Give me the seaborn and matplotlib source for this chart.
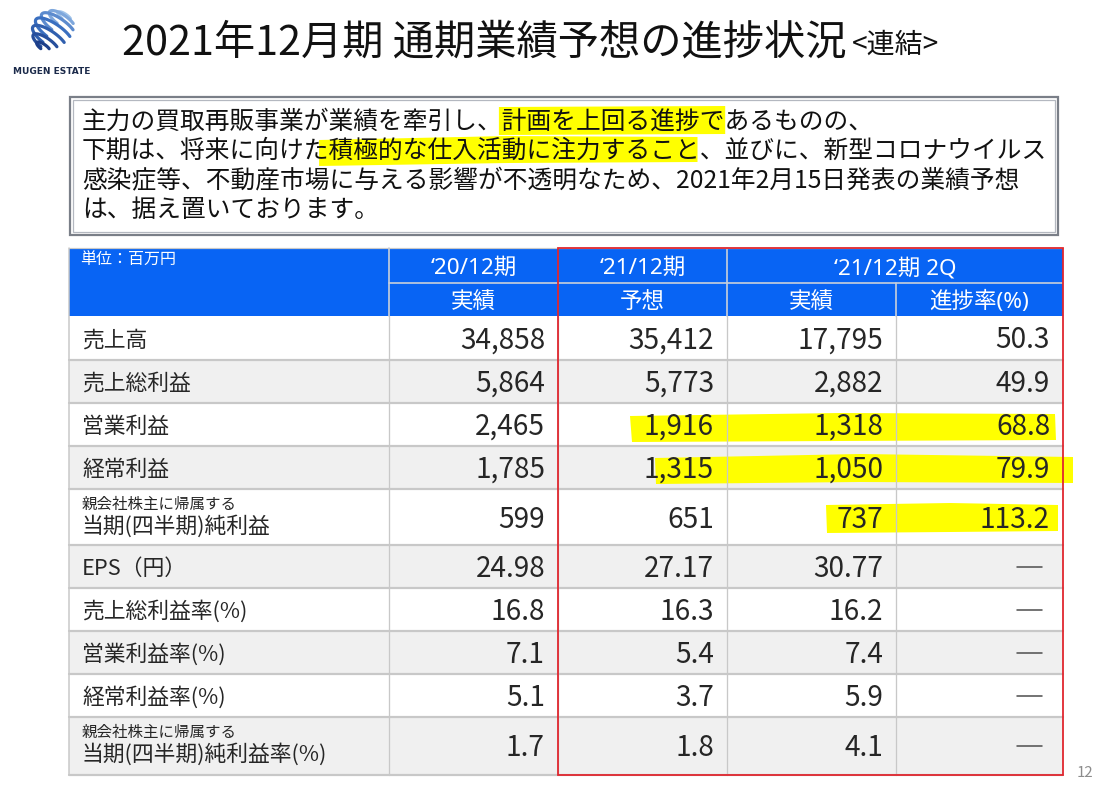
import numpy as np
import matplotlib
matplotlib.use("Agg")
import matplotlib.pyplot as plt
from matplotlib.patches import Rectangle, Polygon
import seaborn as sns

# ---------------- data ----------------
title_text = "2021年12月期 通期業績予想の進捗状況"
title_sub = "<連結>"
summary_lines = [
    "主力の買取再販事業が業績を牽引し、計画を上回る進捗であるものの、",
    "下期は、将来に向けた積極的な仕入活動に注力すること、並びに、新型コロナウイルス",
    "感染症等、不動産市場に与える影響が不透明なため、2021年2月15日発表の業績予想",
    "は、据え置いております。",
]
unit_label = "単位：百万円"
period_headers = ["‘20/12期", "‘21/12期", "‘21/12期 2Q"]
sub_headers = ["実績", "予想", "実績", "進捗率(%)"]
row_labels = ["売上高", "売上総利益", "営業利益", "経常利益", "当期(四半期)純利益",
              "EPS（円）", "売上総利益率(%)", "営業利益率(%)", "経常利益率(%)",
              "当期(四半期)純利益率(%)"]
row_prefix = ["", "", "", "", "親会社株主に帰属する", "", "", "", "", "親会社株主に帰属する"]
fy20_actual = [34858, 5864, 2465, 1785, 599, 24.98, 16.8, 7.1, 5.1, 1.7]
fy21_forecast = [35412, 5773, 1916, 1315, 651, 27.17, 16.3, 5.4, 3.7, 1.8]
q2_actual = [17795, 2882, 1318, 1050, 737, 30.77, 16.2, 7.4, 5.9, 4.1]
progress_pct = [50.3, 49.9, 68.8, 79.9, 113.2, None, None, None, None, None]
decimals = [0, 0, 0, 0, 0, 2, 1, 1, 1, 1]
progress_decimals = 1
page_number = "12"

# ---------------- style ----------------
sns.set_theme(style="white")
plt.rcParams["font.family"] = ["Noto Sans CJK JP", "DejaVu Sans"]

W, H = 1110, 785
fig = plt.figure(figsize=(W / 100, H / 100), dpi=100)
ax = fig.add_axes([0, 0, 1, 1])
ax.set_xlim(0, W)
ax.set_ylim(H, 0)
ax.axis("off")


def pt(px):
    return px * 0.72


TXT = "#262626"
BLUE = "#0864F4"
GRID = "#C8C8C8"
GRAY_ROW = "#F0F0F0"
RED = "#E0262E"
YEL = "#FFFF00"

# ---------------- logo ----------------
cx, cy, R = 54, 32, 22
tilt = np.deg2rad(35)
blues = sns.blend_palette(["#9fc3ea", "#3a6fc0", "#1d3f8a"], 7)
for i, lat in enumerate(np.linspace(-1.2, 1.2, 7)):
    t = np.linspace(np.pi * 0.55, np.pi * 1.75, 80)
    r = np.cos(lat)
    xs = r * np.cos(t)
    ys = np.sin(lat) * 0.9 + 0.35 * r * np.sin(t)
    xr = xs * np.cos(tilt) - ys * np.sin(tilt)
    yr = xs * np.sin(tilt) + ys * np.cos(tilt)
    ax.plot(cx + R * xr, cy + R * yr, color=blues[i], lw=2.3,
            solid_capstyle="round", zorder=3)
ax.text(52, 72, "MUGEN ESTATE", fontsize=6.5, color="#1b2a4a", ha="center",
        va="center", fontweight="bold", family=["DejaVu Sans"])

# ---------------- title ----------------
ax.text(122, 55, title_text, fontsize=pt(41.3), color="#111111", ha="left",
        va="baseline")
ax.text(852, 53, title_sub, fontsize=pt(28), color="#111111", ha="left",
        va="baseline")

# ---------------- summary box ----------------
ax.add_patch(Rectangle((70, 97), 988, 138, fill=False, edgecolor="#7A7F88",
                       lw=1.6, zorder=2))
ax.add_patch(Rectangle((73, 100), 982, 132, fill=False, edgecolor="#B4B8C0",
                       lw=0.9, zorder=2))
cw = 24.7  # character advance in px
x0 = 82
# highlighter strokes, placed over characters 18-26 of line 1 and 11-25 of line 2
a, b = x0 + 17 * cw - 3, x0 + 26 * cw + 1
ax.add_patch(Polygon([(a, 107), (b, 106), (b, 134), (a, 135)],
                     closed=True, facecolor=YEL, edgecolor="none", zorder=1))
a, b = x0 + 9.6 * cw, x0 + 25 * cw - 2
m = (a + b) / 2
ax.add_patch(Polygon([(a, 140), (m, 136), (b, 137), (b, 162),
                      (m, 163), (a, 166)],
                     closed=True, facecolor=YEL, edgecolor="none", zorder=1))
line_base = [129, 158, 188, 217]
for s, yb in zip(summary_lines, line_base):
    ax.text(x0, yb, s, fontsize=pt(cw), color="#111111", ha="left",
            va="baseline", zorder=4)

# ---------------- table ----------------
col_edges = [69, 389, 558, 727, 896, 1063]
hdr_top, hdr_mid, hdr_bot = 248, 283, 316
row_edges = [316, 360, 403, 446, 489, 545, 588, 631, 674, 717, 775]
nrows = len(row_labels)
tab_l, tab_r = col_edges[0], col_edges[-1]

# header
ax.add_patch(Rectangle((tab_l, hdr_top), tab_r - tab_l, hdr_bot - hdr_top,
                       facecolor=BLUE, edgecolor="none", zorder=1))
hl = "#C9CFDA"
ax.plot([col_edges[1], tab_r], [hdr_mid, hdr_mid], color=hl, lw=1.2, zorder=2)
ax.plot([col_edges[1], col_edges[1]], [hdr_top, hdr_bot], color=hl, lw=1.2, zorder=2)
ax.plot([col_edges[3], col_edges[3]], [hdr_top, hdr_bot], color=hl, lw=1.2, zorder=2)
ax.plot([col_edges[4], col_edges[4]], [hdr_mid, hdr_bot], color=hl, lw=1.2, zorder=2)
ax.text(80, 265, unit_label, fontsize=pt(16), color="white", ha="left",
        va="baseline", zorder=4)
hdr_font = ["Noto Sans", "Noto Sans CJK JP"]
period_spans = [(1, 2), (2, 3), (3, 5)]
for lab, (a, b) in zip(period_headers, period_spans):
    ax.text((col_edges[a] + col_edges[b]) / 2, 274, lab, fontsize=pt(22.5),
            color="white", ha="center", va="baseline", family=hdr_font, zorder=4)
for j, lab in enumerate(sub_headers):
    ax.text((col_edges[j + 1] + col_edges[j + 2]) / 2, 308, lab,
            fontsize=pt(22.5), color="white", ha="center", va="baseline",
            family=hdr_font, zorder=4)

# body rows
for i in range(nrows):
    top, bot = row_edges[i], row_edges[i + 1]
    ax.add_patch(Rectangle((tab_l, top), tab_r - tab_l, bot - top,
                           facecolor=(GRAY_ROW if i % 2 else "white"),
                           edgecolor="none", zorder=0.5))

# highlighter strokes in table
ax.add_patch(Polygon([(630, 416), (840, 413), (1055, 414), (1056, 440),
                      (840, 441), (632, 442)], closed=True, facecolor=YEL,
                     edgecolor="none", zorder=1))
ax.add_patch(Polygon([(655, 458), (860, 454), (1073, 457), (1073, 483),
                      (860, 482), (656, 484)], closed=True, facecolor=YEL,
                     edgecolor="none", zorder=1))
ax.add_patch(Polygon([(826, 505), (950, 503), (1058, 505), (1058, 531),
                      (950, 532), (827, 533)], closed=True, facecolor=YEL,
                     edgecolor="none", zorder=1))

# grid lines
for y in row_edges[1:]:
    ax.plot([tab_l, tab_r], [y, y], color=GRID, lw=pt(2.2), zorder=2)
for x in col_edges[1:-1]:
    ax.plot([x, x], [hdr_bot, row_edges[-1]], color=GRID, lw=pt(1.3), zorder=2)
ax.plot([tab_l, tab_l], [hdr_top, row_edges[-1]], color=GRID, lw=pt(1.5), zorder=2)
ax.plot([tab_l, tab_r], [hdr_top, hdr_top], color=GRID, lw=pt(1.2), zorder=2)


def fmt(v, d):
    if v is None:
        return None
    if d == 0:
        return f"{v:,.0f}"
    return f"{v:.{d}f}"


columns = [fy20_actual, fy21_forecast, q2_actual, progress_pct]
for i in range(nrows):
    top, bot = row_edges[i], row_edges[i + 1]
    yc = (top + bot) / 2
    if row_prefix[i]:
        ax.text(82, top + 20, row_prefix[i], fontsize=pt(15.5), color=TXT,
                ha="left", va="baseline", zorder=4)
        ax.text(82, top + 44, row_labels[i], fontsize=pt(21.8), color=TXT,
                ha="left", va="baseline", zorder=4)
    else:
        ax.text(82, yc + 8.5, row_labels[i], fontsize=pt(21.8), color=TXT,
                ha="left", va="baseline", zorder=4)
    for j, col in enumerate(columns):
        d = progress_decimals if j == 3 else decimals[i]
        s = fmt(col[i], d)
        xr = col_edges[j + 2] - 13
        if s is None:
            ax.plot([col_edges[j + 2] - 46, col_edges[j + 2] - 21], [yc, yc],
                    color="#555555", lw=pt(1.6), zorder=4)
        else:
            ax.text(xr, yc + 10.5, s, fontsize=pt(28), color=TXT, ha="right",
                    va="baseline", zorder=4)

# red frame around current-year columns
ax.add_patch(Rectangle((col_edges[2], hdr_top), tab_r - col_edges[2],
                       row_edges[-1] - hdr_top, fill=False, edgecolor=RED,
                       lw=pt(1.8), zorder=5))

ax.text(1085, 773, page_number, fontsize=pt(15), color="#8C8C8C",
        ha="center", va="center")

fig.savefig("out.png", dpi=100)
